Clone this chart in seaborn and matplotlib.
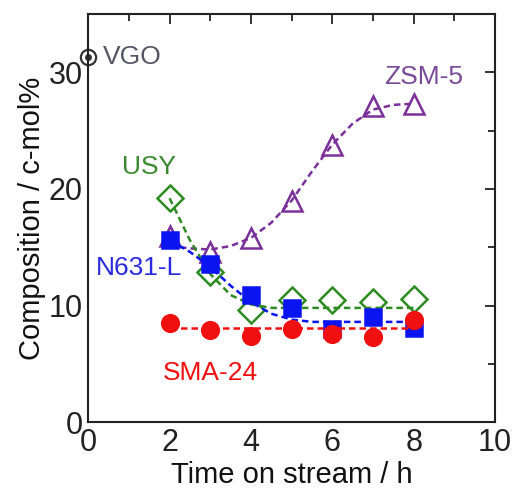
import numpy as np
import pandas as pd
import matplotlib
matplotlib.use('Agg')
import matplotlib.pyplot as plt
from matplotlib.ticker import MultipleLocator
import seaborn as sns

# datos medidos
tiempo = [2, 3, 4, 5, 6, 7, 8]
zsm5 = [16.0, 14.6, 15.8, 19.0, 23.8, 27.1, 27.3]
usy = [19.2, 12.9, 9.6, 10.5, 10.5, 10.3, 10.6]
n631l = [15.6, 13.6, 10.9, 9.8, 8.0, 9.0, 8.1]
sma24 = [8.5, 7.9, 7.4, 8.0, 7.6, 7.3, 8.8]

# curvas de ajuste
tiempo_fit = [2, 2.5, 3, 3.5, 4, 4.5, 5, 5.5, 6, 6.5, 7, 7.5, 8]
zsm5_fit = [15.1, 14.9, 14.8, 15.1, 15.8, 17.1, 19.0, 21.5, 23.8, 25.6, 26.8, 27.2, 27.3]
usy_fit = [19.2, 15.6, 12.7, 10.9, 10.1, 9.8, 9.8, 9.8, 9.8, 9.8, 9.8, 9.8, 9.8]
n631l_fit = [15.6, 14.6, 13.3, 11.7, 10.3, 9.3, 8.8, 8.6, 8.6, 8.6, 8.6, 8.6, 8.6]
sma24_fit = [8.1, 8.1, 8.1, 8.1, 8.1, 8.1, 8.1, 8.1, 8.1, 8.1, 8.1, 8.1, 8.1]

vgo_x, vgo_y = [0], [31.3]

sns.set_style('white')
plt.rcParams['font.family'] = ['Liberation Sans', 'DejaVu Sans']

fig, ax = plt.subplots(figsize=(5.13, 4.95), dpi=100)
fig.subplots_adjust(left=0.172, right=0.965, top=0.972, bottom=0.147)

series = [
    ('ZSM-5', zsm5, zsm5_fit, '#7a2f9a', '^', 14, 'none'),
    ('USY', usy, usy_fit, '#2e8b22', 'D', 13, 'none'),
    ('N631-L', n631l, n631l_fit, '#0a14f0', 's', 11, None),
    ('SMA-24', sma24, sma24_fit, '#f01010', 'o', 12, None),
]

for nombre, datos, ajuste, color, marca, tam, relleno in series:
    sns.lineplot(x=tiempo_fit, y=ajuste, ax=ax, color=color, lw=1.8,
                 linestyle=(0, (2.6, 1.6)))
    ax.plot(tiempo, datos, linestyle='none', marker=marca, ms=tam,
            mec=color, mfc=color if relleno is None else 'none', mew=1.8)

# VGO
ax.plot(vgo_x, vgo_y, marker='o', ms=11, mfc='none', mec='#333333', mew=1.6,
        clip_on=False, linestyle='none')
ax.plot(vgo_x, vgo_y, marker='o', ms=4, mfc='#333333', mec='#333333',
        clip_on=False, linestyle='none')
ax.text(0.35, 31.3, 'VGO', color='#555566', fontsize=19, va='center', ha='left')

ax.text(8.25, 29.6, 'ZSM-5', color='#7a4a9a', fontsize=19, ha='center', va='center')
ax.text(1.5, 21.9, 'USY', color='#3a8a30', fontsize=19, ha='center', va='center')
ax.text(1.25, 13.2, 'N631-L', color='#2a2ae0', fontsize=19, ha='center', va='center')
ax.text(3.0, 4.2, 'SMA-24', color='#f01010', fontsize=19, ha='center', va='center')

ax.set_xlim(0, 10)
ax.set_ylim(0, 35)
ax.xaxis.set_major_locator(MultipleLocator(2))
ax.xaxis.set_minor_locator(MultipleLocator(1))
ax.set_yticks([0, 10, 20, 30])
ax.yaxis.set_minor_locator(MultipleLocator(5))
ax.tick_params(which='both', direction='in', top=True, right=True,
               labelsize=22, width=1.3, colors='#222222')
ax.tick_params(which='major', length=7, pad=4)
ax.tick_params(which='minor', length=5)
for s in ax.spines.values():
    s.set_color('#222222')
    s.set_linewidth(1.5)

ax.set_xlabel('Time on stream / h', fontsize=21, color='#111111', labelpad=2)
ax.set_ylabel('Composition / c-mol%', fontsize=21, color='#111111', labelpad=2)

plt.savefig('out.png', dpi=100)
